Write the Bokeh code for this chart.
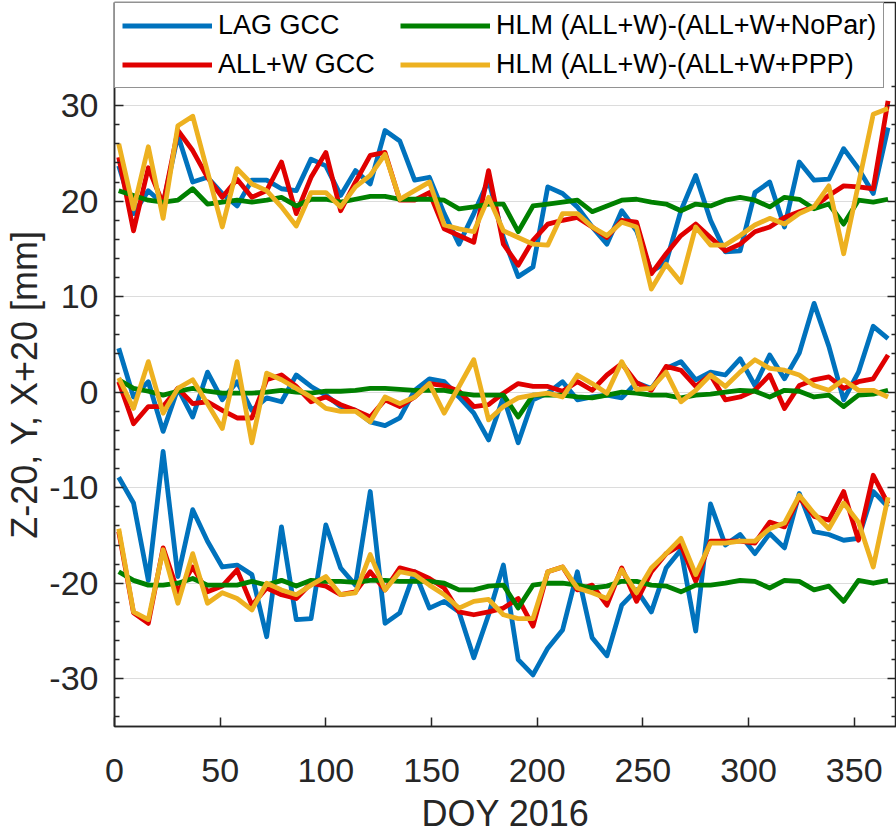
from bokeh.plotting import figure
from bokeh.models import (Range1d, LinearAxis, Legend, LegendItem, SingleIntervalTicker,
                          FixedTicker, CustomJSTickFormatter)
from bokeh.embed import file_html
from bokeh.resources import INLINE

# Day of year (weekly solutions, 2016)
doy = [2, 9, 16, 23, 30, 37, 44, 51, 58, 65, 72, 79, 86, 93, 100, 107, 114, 121,
       128, 135, 142, 149, 156, 163, 170, 177, 184, 191, 198, 205, 212, 219, 226,
       233, 240, 247, 254, 261, 268, 275, 282, 289, 296, 303, 310, 317, 324, 331,
       338, 345, 352, 359, 366]

# ---- X + 20 [mm] ----
lag_x = [23.7, 18.7, 21.1, 19.7, 26.9, 22.0, 22.5, 20.8, 19.5, 22.2, 22.2, 21.3, 21.1, 24.4,
         23.7, 20.6, 23.2, 21.8, 27.4, 26.3, 22.2, 22.5, 18.7, 15.5, 18.7, 22.2, 16.2, 12.1,
         13.1, 21.5, 20.8, 19.4, 17.3, 15.5, 19.0, 16.9, 12.6, 13.6, 19.0, 22.7, 18.0, 14.7,
         14.8, 20.9, 22.0, 17.3, 24.1, 22.2, 22.3, 25.5, 23.4, 20.8, 27.7]
allw_x = [24.6, 16.9, 23.5, 19.7, 27.4, 25.3, 22.5, 20.4, 22.3, 20.4, 21.1, 24.1, 18.7, 22.5,
          25.1, 19.0, 22.0, 24.8, 25.1, 20.1, 20.1, 20.9, 17.1, 16.4, 15.7, 23.2, 15.5, 13.3,
          15.9, 17.6, 18.0, 18.3, 17.3, 16.2, 18.0, 17.8, 12.4, 14.5, 16.4, 17.6, 16.2, 14.8,
          15.5, 16.8, 17.3, 18.3, 18.9, 19.4, 20.6, 21.6, 21.5, 21.3, 30.5]
nopar_x = [21.1, 20.6, 20.1, 19.9, 20.1, 21.3, 19.7, 19.9, 20.1, 19.9, 20.1, 20.4, 19.5, 20.2,
           20.2, 19.9, 20.2, 20.5, 20.5, 20.2, 20.2, 20.2, 20.1, 19.2, 19.4, 19.7, 19.7, 16.8,
           19.5, 19.7, 19.9, 20.1, 18.9, 19.5, 20.1, 20.2, 19.9, 19.7, 19.0, 19.7, 19.5, 20.1,
           20.4, 20.1, 19.4, 20.4, 20.2, 19.2, 19.7, 17.6, 20.1, 19.9, 20.2]
ppp_x = [26.0, 19.2, 25.7, 18.2, 27.9, 28.9, 23.1, 17.3, 23.4, 21.8, 21.1, 19.4, 17.4, 20.9,
         20.9, 19.4, 21.5, 22.7, 24.9, 20.2, 21.1, 22.0, 17.5, 17.1, 16.8, 20.4, 16.9, 16.2,
         15.5, 15.4, 18.7, 18.7, 17.3, 16.4, 17.8, 17.3, 10.8, 13.4, 11.5, 17.3, 15.4, 15.4,
         16.4, 17.5, 18.2, 17.6, 18.7, 19.4, 21.6, 14.5, 21.8, 29.1, 29.7]

# ---- Y [mm] ----
lag_y = [4.6, -0.5, 1.1, -4.1, 0.4, -2.6, 2.1, -0.8, 1.1, -1.9, -0.6, -1.0, 1.8, 0.6,
         -0.3, -1.5, -1.9, -3.1, -3.5, -2.7, 0.2, 1.4, 1.1, -0.5, -2.2, -5.0, -0.5, -5.3,
         -0.8, -0.1, 1.1, -0.8, -0.5, -0.3, -0.6, 1.0, 0.4, 2.5, 3.2, 1.3, 2.1, 1.8,
         3.5, 0.7, 3.9, 1.4, 4.1, 9.3, 4.8, -0.8, 2.1, 6.9, 5.6]
allw_y = [1.1, -3.3, -1.5, -1.5, 0.4, -1.2, -1.0, -1.9, -2.7, -2.7, 1.3, 1.8, 0.6, -1.0,
          -0.5, -1.3, -1.9, -2.6, -0.8, -1.5, -0.5, 0.9, 0.7, 0.1, -1.5, -1.3, -0.1, 0.9,
          0.6, 0.6, 0.1, 1.1, 0.2, 1.8, 3.0, 1.0, 0.2, 2.7, 2.3, 0.6, 1.8, -0.8,
          -0.5, 0.2, 1.8, -1.7, 0.7, 1.3, 1.6, 0.4, 1.1, 1.4, 3.9]
nopar_y = [1.3, 0.4, 0.1, -0.3, 0.1, 0.4, 0.1, -0.1, -0.1, -0.1, 0.0, 0.2, 0.0, -0.1,
           0.1, 0.1, 0.2, 0.4, 0.4, 0.3, 0.2, 0.2, 0.2, -0.1, -0.3, -0.3, -0.3, -2.6,
           -0.3, -0.3, -0.3, -0.5, -0.6, -0.3, 0.0, -0.1, -0.3, -0.3, -0.6, -0.3, -0.2, 0.0,
           0.2, 0.1, -0.5, 0.2, 0.1, -0.5, -0.3, -1.5, -0.3, -0.2, 0.2]
ppp_y = [1.5, -1.7, 3.2, -2.2, 0.4, 1.3, -1.2, -3.8, 3.2, -5.3, 2.0, 1.3, 0.4, -0.5,
         -1.7, -2.0, -2.0, -3.1, -0.5, -1.2, -0.5, 0.9, -2.2, 0.6, 3.4, -2.9, -1.5, -0.6,
         -0.3, -0.1, -0.5, 1.8, 0.9, -0.1, 3.2, 0.3, 0.4, 2.1, -1.0, 0.2, 1.8, 0.6,
         2.1, 3.4, 2.5, 2.3, 1.8, 0.7, 0.2, 1.3, 0.2, 0.2, -0.5]

# ---- Z - 20 [mm] ----
lag_z = [-8.9, -11.6, -19.7, -6.2, -19.3, -12.3, -15.6, -18.3, -18.1, -19.1, -25.6, -14.1, -23.8, -23.7,
         -13.9, -18.4, -20.2, -10.4, -24.2, -23.1, -18.8, -22.6, -21.9, -23.0, -27.8, -23.3, -18.1, -28.0,
         -29.6, -26.8, -24.9, -18.8, -25.7, -27.6, -22.3, -20.7, -23.0, -18.4, -16.5, -25.0, -11.7, -16.0,
         -14.9, -16.9, -14.8, -16.3, -10.6, -14.6, -14.9, -15.5, -15.3, -10.4, -12.0]
allw_z = [-14.6, -23.1, -24.2, -16.3, -20.9, -18.3, -20.9, -20.3, -18.6, -22.3, -20.5, -21.2, -21.6, -20.0,
          -20.3, -21.2, -20.9, -18.8, -20.7, -18.4, -18.8, -19.5, -20.5, -23.0, -23.3, -23.0, -22.6, -21.6,
          -24.5, -18.8, -18.3, -20.7, -20.2, -22.3, -18.4, -21.9, -18.8, -16.9, -16.0, -19.8, -15.6, -15.6,
          -15.6, -15.8, -13.6, -14.1, -11.0, -13.0, -13.4, -10.4, -15.5, -8.7, -11.7]
nopar_z = [-18.8, -19.7, -20.2, -20.2, -20.0, -19.5, -20.2, -20.2, -20.2, -19.8, -20.2, -19.7, -20.3, -19.7,
           -19.8, -19.8, -19.9, -19.7, -19.7, -19.8, -19.8, -19.8, -20.0, -20.7, -20.7, -20.3, -20.2, -22.6,
           -20.2, -20.0, -20.0, -20.2, -20.5, -20.3, -19.8, -19.8, -20.2, -20.3, -20.9, -20.2, -20.2, -20.0,
           -19.7, -19.8, -20.5, -19.7, -19.8, -20.7, -20.3, -21.9, -19.7, -20.0, -19.7]
ppp_z = [-14.3, -23.0, -23.8, -16.5, -22.1, -16.9, -22.1, -21.0, -21.6, -22.8, -20.0, -20.7, -21.2, -20.2,
         -19.3, -21.2, -21.0, -17.0, -20.7, -18.8, -19.1, -20.2, -21.2, -22.6, -21.9, -21.7, -23.3, -23.7,
         -23.7, -18.8, -18.3, -20.5, -21.0, -21.6, -18.6, -21.0, -18.4, -16.9, -15.3, -19.1, -15.8, -15.8,
         -15.6, -15.6, -14.3, -13.7, -10.8, -12.7, -14.3, -11.6, -13.6, -18.3, -11.0]

series_names = ["LAG GCC", "ALL+W GCC", "HLM (ALL+W)-(ALL+W+NoPar)", "HLM (ALL+W)-(ALL+W+PPP)"]
series_colors = ["#0072BD", "#E00000", "#008000", "#EDB120"]
series_data = [(lag_x, lag_y, lag_z), (allw_x, allw_y, allw_z),
               (nopar_x, nopar_y, nopar_z), (ppp_x, ppp_y, ppp_z)]

# axis tick values
y_major_ticks = [-30, -20, -10, 0, 10, 20, 30]
y_minor_ticks = [-34, -32, -28, -26, -24, -22, -18, -16, -14, -12, -8, -6, -4, -2,
                 2, 4, 6, 8, 12, 14, 16, 18, 22, 24, 26, 28, 32]

FONT = "Liberation Sans"
AX = "#262626"

# top of the y range reaches into the legend band above the data box
p = figure(width=896, height=836, output_backend="svg", toolbar_location=None,
           x_range=Range1d(0, 370), y_range=Range1d(-35, 40.8),
           min_border_left=114, min_border_right=0, min_border_top=2, min_border_bottom=108,
           background_fill_color="white", border_fill_color="white")
p.outline_line_color = AX
p.outline_line_width = 1.5

yt = FixedTicker(ticks=y_major_ticks, minor_ticks=y_minor_ticks)
xt = SingleIntervalTicker(interval=50, num_minor_ticks=0)
fmt = CustomJSTickFormatter(code="return tick.toFixed(0);")

p.xaxis.ticker = xt
p.yaxis.ticker = yt
p.ygrid.ticker = yt
p.xaxis.formatter = fmt
p.yaxis.formatter = fmt
p.xgrid.grid_line_color = None
p.ygrid.grid_line_color = "#dcdcdc"
p.ygrid.grid_line_width = 1

for ax in (p.xaxis[0], p.yaxis[0]):
    ax.axis_line_color = AX
    ax.axis_line_width = 1.5
    ax.major_tick_line_color = AX
    ax.major_tick_line_width = 1.5
    ax.minor_tick_line_color = AX
    ax.minor_tick_line_width = 1.5
    ax.major_tick_in = 9
    ax.major_tick_out = 0
    ax.minor_tick_in = 5
    ax.minor_tick_out = 0
    ax.major_label_text_font = FONT
    ax.major_label_text_font_size = "34px"
    ax.major_label_text_color = AX
    ax.axis_label_text_font = FONT
    ax.axis_label_text_font_size = "36px"
    ax.axis_label_text_font_style = "normal"
    ax.axis_label_text_color = AX

p.xaxis.axis_label = "DOY 2016"
p.xaxis.major_label_standoff = 32
p.xaxis.axis_label_standoff = 8
p.xaxis.minor_tick_line_color = None

# trailing no-break spaces lift the centred label toward the data box's centre
p.yaxis.axis_label = "Z-20, Y, X+20 [mm]" + "\u00a0" * 4
p.yaxis.major_label_standoff = 16
p.yaxis.axis_label_standoff = 1

ry = LinearAxis(ticker=yt, formatter=CustomJSTickFormatter(code="return '';"),
                major_label_text_font_size="0px", major_label_standoff=0,
                axis_line_color=AX, axis_line_width=1.5,
                major_tick_line_color=AX, major_tick_line_width=1.5,
                minor_tick_line_color=AX, minor_tick_line_width=1.5,
                major_tick_in=9, major_tick_out=0, minor_tick_in=5, minor_tick_out=0)
p.add_layout(ry, "right")

first = []
for name, color, groups in zip(series_names, series_colors, series_data):
    rs = [p.line(doy, g, line_color=color, line_width=4.8, line_join="round")
          for g in groups]
    first.append(rs[0])

legend = Legend(items=[LegendItem(label=n, renderers=[r]) for n, r in zip(series_names, first)],
                location="top_left", orientation="vertical", nrows=2,
                label_text_font=FONT, label_text_font_size="27px", label_text_color="black",
                glyph_width=90, glyph_height=31, label_height=31, label_width=174,
                label_standoff=6, padding=7, spacing=8, margin=0,
                border_line_color=AX, border_line_width=1.5,
                background_fill_color="white", background_fill_alpha=1.0)
p.add_layout(legend, "center")

open("out.html", "w").write(file_html(p, INLINE))
